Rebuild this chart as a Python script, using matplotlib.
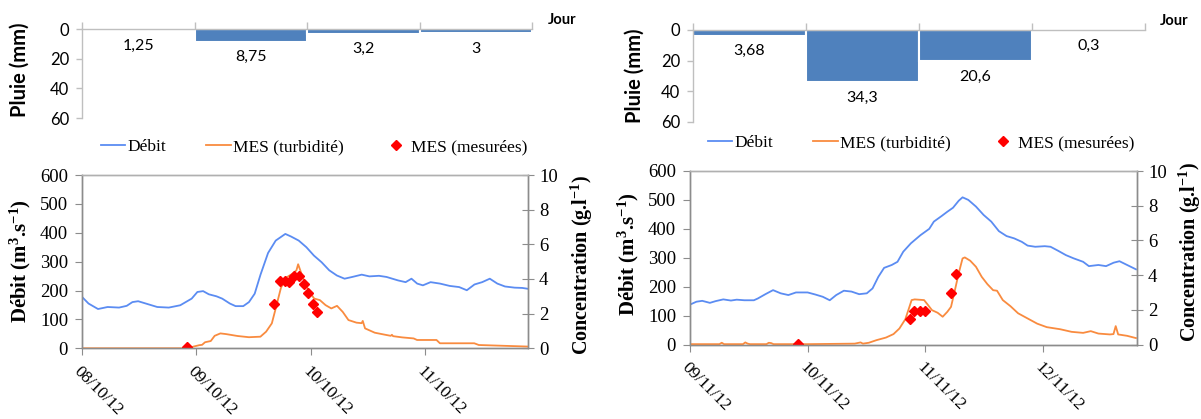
import numpy as np
import matplotlib
matplotlib.use("Agg")
import matplotlib.pyplot as plt

plt.rcParams['mathtext.fontset'] = 'custom'
plt.rcParams['mathtext.rm'] = 'Liberation Serif:bold'
plt.rcParams['mathtext.bf'] = 'Liberation Serif:bold'
plt.rcParams['mathtext.it'] = 'Liberation Serif:bold'

SERIF = 'Liberation Serif'
SANS = 'Lato'

# ---------------- data ----------------
# rain (mm per day)
rain1 = [1.25, 8.75, 3.2, 3.0]
rain1_labels = ['1,25', '8,75', '3,2', '3']
rain2 = [3.68, 34.3, 20.6, 0.3]
rain2_labels = ['3,68', '34,3', '20,6', '0,3']

# left event: x in days since 08/10/12
dates1 = ['08/10/12', '09/10/12', '10/10/12', '11/10/12']
q1_days = [0.00, 0.057, 0.14, 0.224, 0.324, 0.391, 0.441, 0.491, 0.558, 0.658, 0.759, 0.859,
           0.959, 1.009, 1.059, 1.109, 1.176, 1.226, 1.293, 1.343, 1.41, 1.46, 1.51, 1.561,
           1.627, 1.694, 1.778, 1.828, 1.895, 1.962, 2.028, 2.095, 2.162, 2.229, 2.296, 2.363,
           2.446, 2.513, 2.597, 2.663, 2.764, 2.83, 2.881, 2.931, 2.981, 3.048, 3.131, 3.215,
           3.298, 3.365, 3.432, 3.499, 3.566, 3.632, 3.699, 3.783, 3.85, 3.90]
q1 = [178, 155, 136, 143, 141, 147, 160, 163, 155, 143, 141, 149,
      172, 195, 198, 187, 180, 172, 155, 146, 146, 160, 189, 255,
      330, 373, 396, 387, 373, 350, 321, 298, 270, 252, 241, 247,
      255, 249, 251, 247, 235, 229, 241, 224, 218, 229, 224, 216,
      212, 201, 221, 229, 241, 224, 214, 210, 209, 206]
c1_days = [0, 0.95, 0.975, 1.026, 1.05, 1.076, 1.126, 1.16, 1.21, 1.26, 1.36, 1.46, 1.56,
           1.61, 1.66, 1.69, 1.74, 1.79, 1.84, 1.875, 1.89, 1.93, 1.98, 2.03, 2.08, 2.13,
           2.18, 2.23, 2.28, 2.33, 2.40, 2.445, 2.455, 2.475, 2.56, 2.66, 2.70, 2.71, 2.72,
           2.80, 2.90, 2.93, 3.10, 3.13, 3.43, 3.47, 3.90]
c1 = [0, 0, 0.1, 0.18, 0.2, 0.35, 0.42, 0.72, 0.86, 0.82, 0.71, 0.64, 0.67,
      0.96, 1.44, 2.2, 3.5, 4.1, 4.3, 4.5, 4.85, 4.1, 3.35, 2.87, 2.78, 2.49,
      2.30, 2.45, 2.1, 1.63, 1.48, 1.45, 1.58, 1.15, 0.9, 0.77, 0.72, 0.78, 0.7,
      0.63, 0.57, 0.48, 0.48, 0.29, 0.29, 0.19, 0.10]
m1_days = [0.916, 1.683, 1.728, 1.772, 1.812, 1.852, 1.898, 1.94, 1.98, 2.02, 2.058]
m1 = [0.06, 2.55, 3.88, 3.88, 3.80, 4.15, 4.17, 3.70, 3.17, 2.55, 2.10]

# right event: x in days since 09/11/12
dates2 = ['09/11/12', '10/11/12', '11/11/12', '12/11/12']
q2_days = [0, 0.055, 0.104, 0.169, 0.218, 0.283, 0.348, 0.397, 0.462, 0.543, 0.576, 0.641,
           0.706, 0.771, 0.836, 0.901, 1.0, 1.064, 1.129, 1.188, 1.243, 1.308, 1.373, 1.438,
           1.503, 1.552, 1.601, 1.65, 1.715, 1.764, 1.813, 1.878, 1.959, 2.034, 2.073, 2.138,
           2.187, 2.236, 2.284, 2.317, 2.366, 2.431, 2.496, 2.561, 2.626, 2.691, 2.756, 2.821,
           2.87, 2.935, 3.016, 3.065, 3.13, 3.196, 3.261, 3.342, 3.391, 3.472, 3.537, 3.602,
           3.651, 3.716, 3.791]
q2 = [138, 148, 151, 144, 150, 156, 152, 155, 153, 153, 159, 174,
      188, 177, 171, 180, 180, 173, 165, 153, 171, 186, 183, 174,
      177, 194, 234, 265, 275, 286, 321, 350, 378, 400, 425, 444,
      459, 473, 497, 509, 500, 477, 448, 425, 392, 375, 367, 355,
      342, 338, 340, 338, 324, 309, 298, 286, 271, 275, 271, 283,
      288, 275, 260]
c2_days = [0, 0.25, 0.27, 0.29, 0.45, 0.47, 0.49, 0.51, 0.65, 0.67, 0.69, 0.71, 1.0, 1.40,
           1.45, 1.47, 1.52, 1.585, 1.666, 1.73, 1.78, 1.83, 1.861, 1.884, 1.91, 1.99, 2.024,
           2.057, 2.105, 2.148, 2.187, 2.219, 2.252, 2.284, 2.317, 2.336, 2.382, 2.431, 2.48,
           2.528, 2.577, 2.61, 2.659, 2.724, 2.789, 2.854, 2.952, 3.033, 3.147, 3.244, 3.342,
           3.407, 3.472, 3.57, 3.60, 3.619, 3.64, 3.716, 3.791]
c2 = [0.02, 0.02, 0.1, 0.02, 0.02, 0.12, 0.05, 0.02, 0.02, 0.1, 0.08, 0.02, 0.02, 0.05,
      0.12, 0.05, 0.1, 0.25, 0.4, 0.6, 0.92, 1.45, 2.08, 2.56, 2.6, 2.56, 2.27,
      1.98, 1.83, 1.6, 1.88, 2.17, 3.13, 4.1, 4.96, 5.02, 4.83, 4.48, 3.9,
      3.48, 3.13, 3.1, 2.56, 2.21, 1.8, 1.56, 1.2, 1.0, 0.88, 0.73, 0.67,
      0.77, 0.63, 0.58, 0.6, 1.06, 0.58, 0.5, 0.37]
m2_days = [0.918, 1.867, 1.906, 1.953, 1.998, 2.216, 2.265]
m2 = [0.05, 1.46, 1.93, 1.95, 1.93, 2.95, 4.08]

# ---------------- styles ----------------
W, H = 1201, 419
BAR = '#4F81BD'
BLUE = '#5B8CF2'
ORANGE = '#F98B3F'
RED = '#FF0000'
GRID_GREY = '#BFBFBF'
AX_GREY = '#8C8C8C'


def fx(px):
    return px / W


def fy(py):
    return 1 - py / H


fig = plt.figure(figsize=(W / 100, H / 100), dpi=100)


def rain_panel(x0, x1, ytop, ybot, vals, labels, jour_xy, ylab_xy):
    ax = fig.add_axes([fx(x0), fy(ybot), fx(x1) - fx(x0), fy(ytop) - fy(ybot)])
    x = np.arange(len(vals)) + 0.5
    ax.bar(x, vals, width=1.0, color=BAR, edgecolor='white', linewidth=1.5, zorder=1)
    ax.set_xlim(0, len(vals))
    ax.set_ylim(60, 0)
    ax.set_yticks([0, 20, 40, 60])
    ax.xaxis.tick_top()
    ax.set_xticks(np.arange(len(vals) + 1))
    ax.set_xticklabels([])
    ax.tick_params(axis='x', direction='out', length=5, color=GRID_GREY, width=1)
    ax.tick_params(axis='y', direction='out', length=4, color=GRID_GREY, width=1,
                   labelsize=12, pad=5)
    for lab in ax.get_yticklabels():
        lab.set_fontfamily(SANS)
    for s in ['right', 'bottom']:
        ax.spines[s].set_visible(False)
    for s in ['top', 'left']:
        ax.spines[s].set_color(GRID_GREY)
        ax.spines[s].set_linewidth(1)
    ax.patch.set_alpha(0)
    for xi, v, lab in zip(x, vals, labels):
        ax.annotate(lab, (xi, v), xytext=(0, -6), textcoords='offset points',
                    ha='center', va='top', fontsize=11.5, family=SANS)
    fig.text(fx(jour_xy[0]), fy(jour_xy[1]), 'Jour', ha='left', va='center',
             fontsize=10.5, fontweight='bold', family=SANS)
    fig.text(fx(ylab_xy[0]), fy(ylab_xy[1]), 'Pluie (mm)', ha='center', va='center',
             rotation=90, fontsize=14.5, fontweight='bold', family=SANS)
    return ax


def main_panel(x0, x1, ytop, ybot, xmax, qd, q, cd, c, md, m, dates, leg_xy,
               ylab_l, ylab_r):
    ax = fig.add_axes([fx(x0), fy(ybot), fx(x1) - fx(x0), fy(ytop) - fy(ybot)])
    ax2 = ax.twinx()
    l1, = ax.plot(qd, q, color=BLUE, lw=1.3, label='Débit')
    l2, = ax2.plot(cd, c, color=ORANGE, lw=1.3, label='MES (turbidité)')
    l3, = ax2.plot(md, m, linestyle='none', marker='D', markersize=5.5, color=RED,
                   markeredgecolor=RED, label='MES (mesurées)')
    ax.set_xlim(0, xmax)
    ax.set_ylim(0, 600)
    ax2.set_ylim(0, 10)
    ax.set_yticks(np.arange(0, 601, 100))
    ax2.set_yticks(np.arange(0, 11, 2))
    ax.set_xticks(np.arange(len(dates)))
    ax.set_xticklabels(dates, rotation=-45, ha='left', va='top', rotation_mode='anchor',
                       family=SERIF, fontsize=12.5)
    ax.tick_params(axis='x', direction='out', length=5, color=AX_GREY, pad=6)
    ax.tick_params(axis='y', direction='out', length=5, color=AX_GREY, labelsize=13.5, pad=5)
    ax2.tick_params(axis='y', direction='inout', length=8, color=AX_GREY, labelsize=13.5, pad=4)
    for lab in ax.get_yticklabels() + ax2.get_yticklabels():
        lab.set_fontfamily(SERIF)
    for a in (ax, ax2):
        for s in a.spines.values():
            s.set_color(AX_GREY)
            s.set_linewidth(1)
        a.spines['top'].set_color('#B0B0B0')
    fig.text(fx(ylab_l[0]), fy(ylab_l[1]), 'Débit (m$^{3}$.s$^{-1}$)', ha='center',
             va='center', rotation=90, fontsize=15, fontweight='bold', family=SERIF)
    fig.text(fx(ylab_r[0]), fy(ylab_r[1]), 'Concentration (g.l$^{-1}$)', ha='center',
             va='center', rotation=90, fontsize=14.5, fontweight='bold', family=SERIF)
    fig.legend(handles=[l1, l2, l3], loc='center', bbox_to_anchor=(fx(leg_xy[0]), fy(leg_xy[1])),
               ncol=3, frameon=False, prop={'family': SERIF, 'size': 12.5},
               handlelength=1.4, handletextpad=0.15, columnspacing=2.3, borderpad=0,
               markerscale=0.9)
    return ax, ax2


rain_panel(82, 532, 29, 118, rain1, rain1_labels, (548, 20), (20, 70))
rain_panel(693, 1145, 30, 121.7, rain2, rain2_labels, (1160, 21), (635, 76))

main_panel(82, 528, 175, 348.3, 3.90, q1_days, q1, c1_days, c1, m1_days, m1, dates1,
           (314, 147), (20, 261), (582, 265))
main_panel(690, 1137, 171, 344.5, 3.80, q2_days, q2, c2_days, c2, m2_days, m2, dates2,
           (921, 143), (628, 254), (1190, 252))

fig.savefig('out.png', dpi=100)
